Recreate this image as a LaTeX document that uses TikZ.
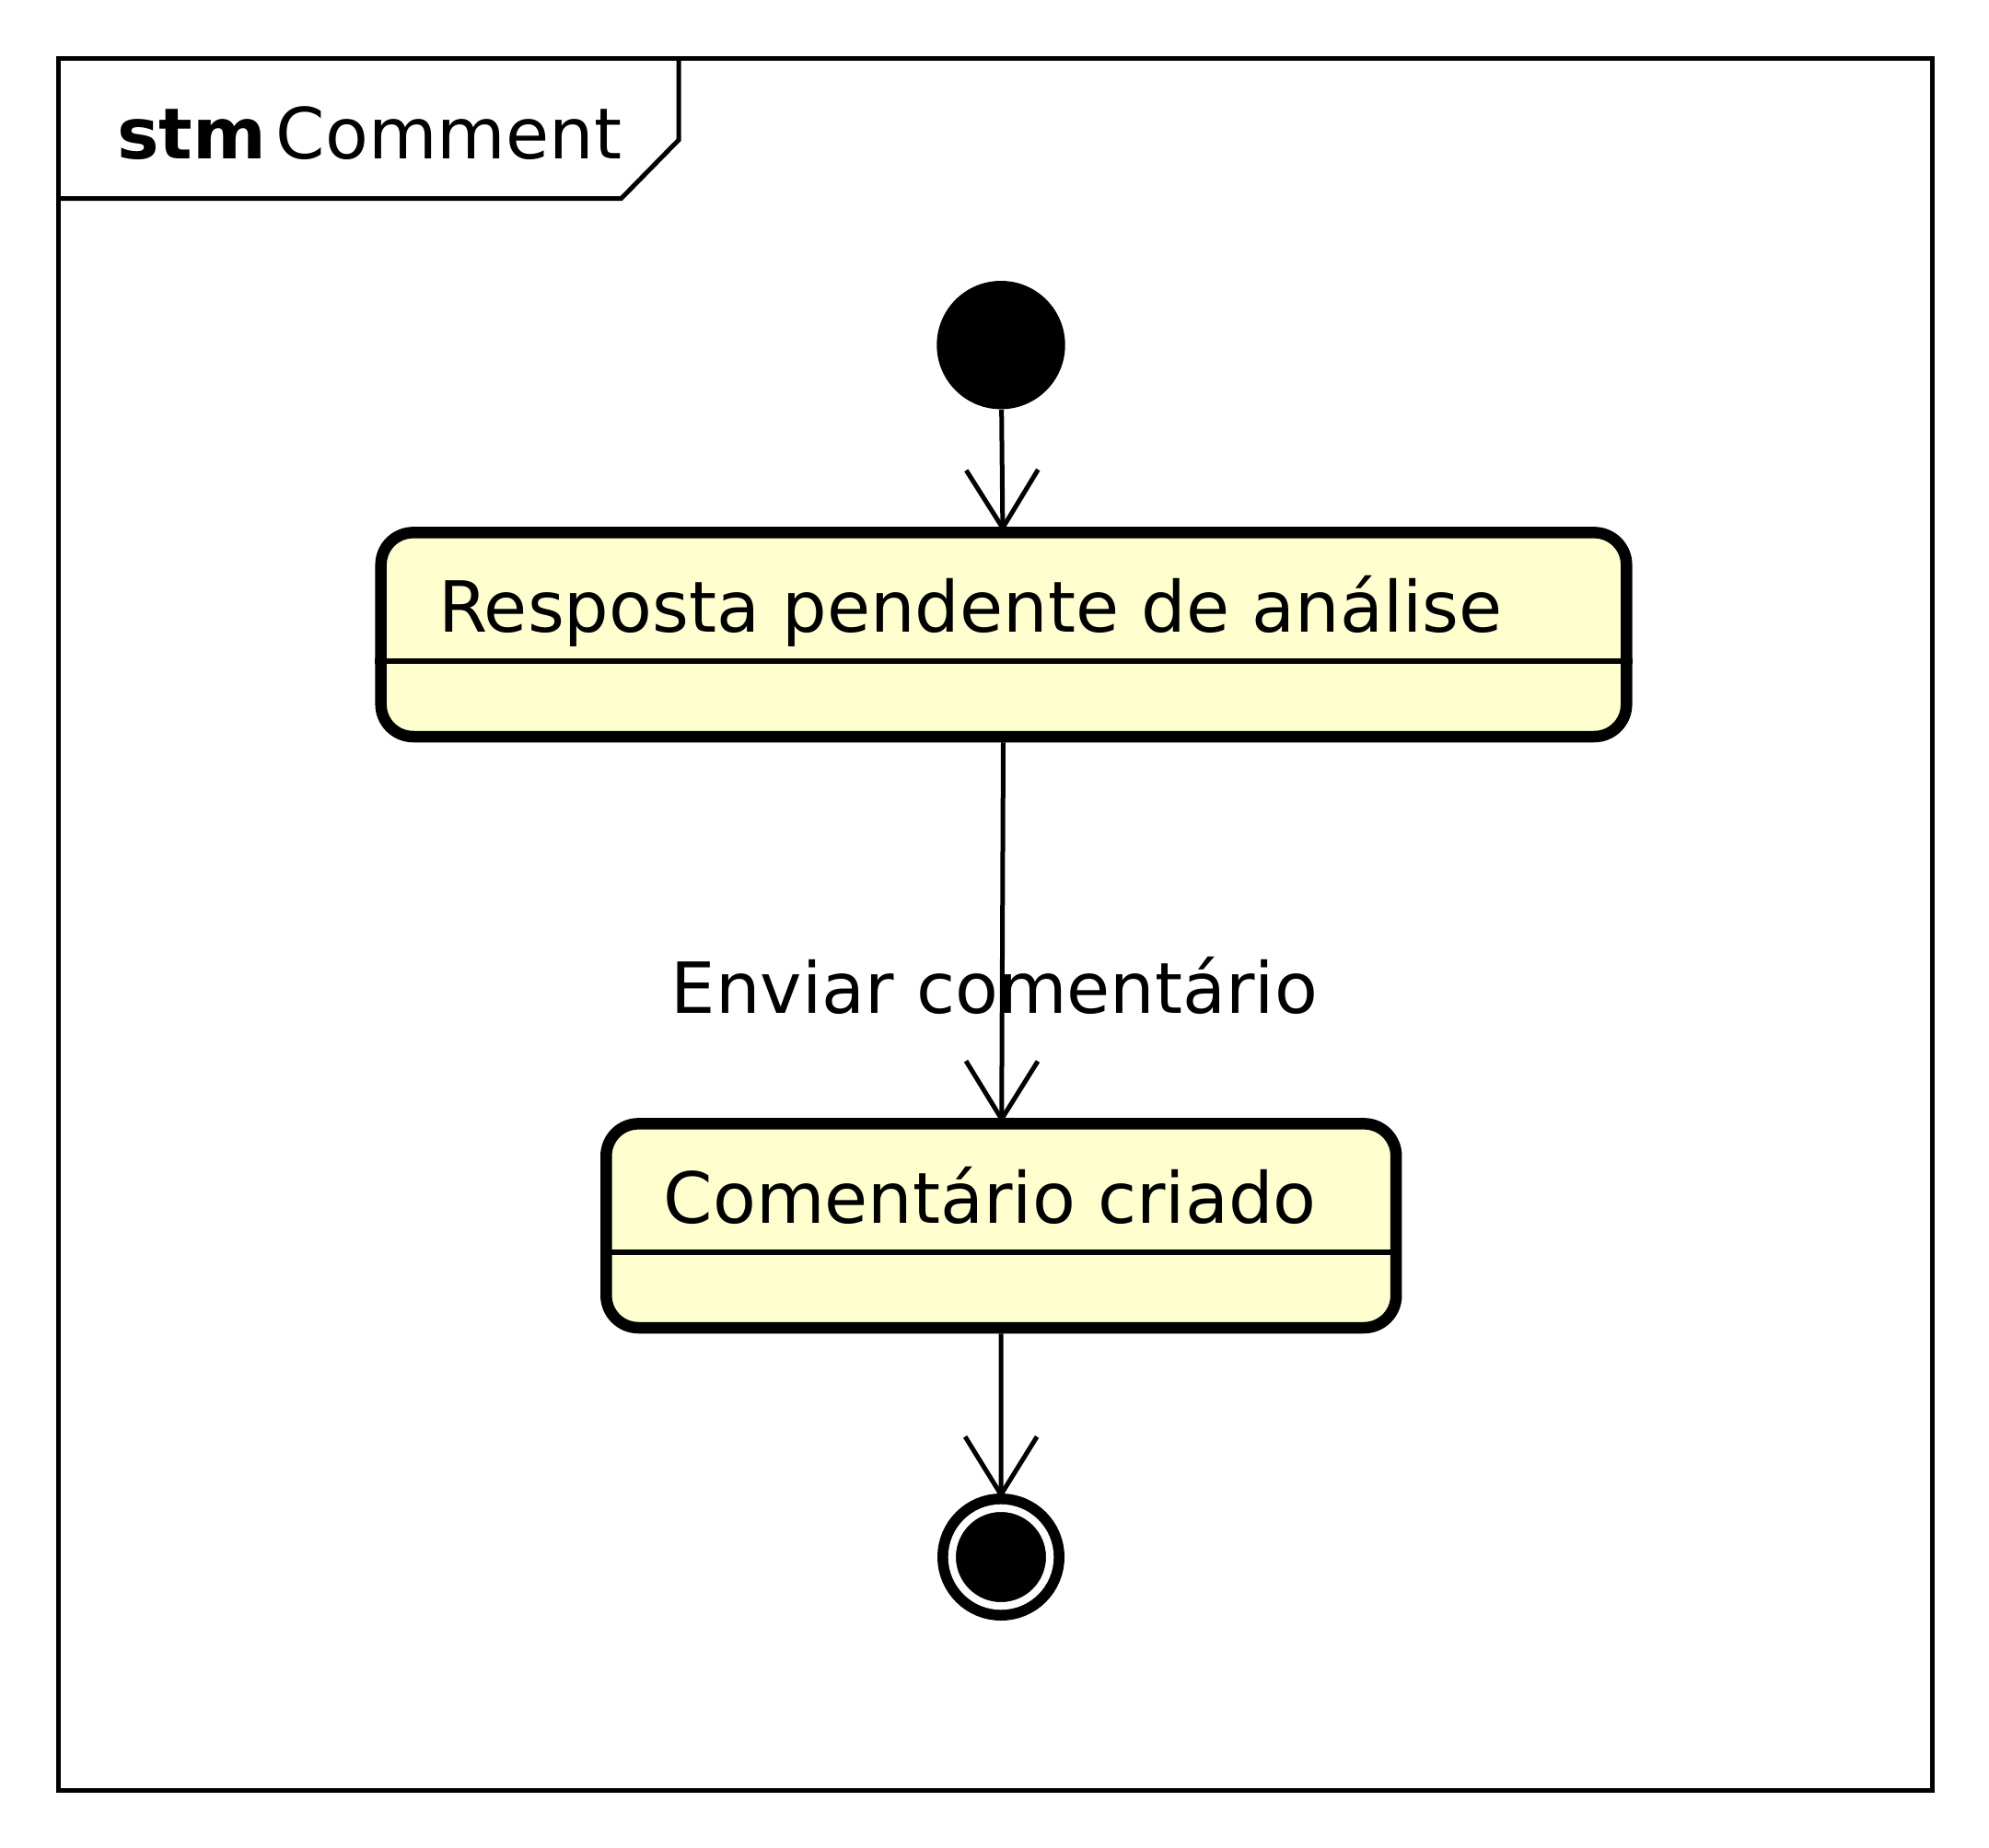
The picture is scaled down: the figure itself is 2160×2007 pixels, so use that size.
\documentclass[tikz,border=0pt]{standalone}
\usepackage{fontspec}
\setmainfont{DejaVu Sans}
\usetikzlibrary{arrows.meta, positioning}
\definecolor{stfill}{HTML}{FEFECE}
\tikzset{
	every node/.style={inner sep=0pt, font=\fontsize{38.3}{46}\selectfont},
	stbox/.style={rectangle, draw, fill=stfill, line width=6.25pt, rounded corners=17.5pt, minimum height=110.8pt},
	sttext/.style={anchor=base west},
	initst/.style={circle, fill=black, minimum size=69.7pt},
	finalst/.style={circle, draw=black, fill=black, double=white, double distance=4.15pt, line width=5.85pt, minimum size=53.15pt, outer sep=7.93pt},
	trans/.style={-{Straight Barb[length=31.5pt, width=39pt]}, line width=2.5pt, shorten >=-3pt},
	frameline/.style={line width=2.5pt},
	divider/.style={line width=2.85pt}
}

\begin{document}
\begin{tikzpicture}[x=0.5pt, y=0.5pt]
	\useasboundingbox (0,0) rectangle (2160,-2007);
	% frame and tab
	\draw[frameline] (63.5,-63.5) rectangle (2098,-1944.5);
	\draw[frameline] (63.5,-215.7) -- (674.5,-215.7) -- (737,-152) -- (737,-63.5);
	\node[sttext] (stm) at (127,-172.3) {\textbf{stm}};
	\node[sttext] (nome) at ([xshift=4.85pt]stm.base east) {Comment};

	% states
	\node[initst] (ini) at (1087,-374.7) {};
	\node[stbox, minimum width=676.3pt] (resp) at (1090,-689.2) {};
	\node[stbox, minimum width=428.95pt] (criado) at (1087.25,-1331.2) {};
	\node[finalst] (fim) at (1087,-1691) {};

	\node[sttext] (resp-t) at ([xshift=34.1pt, yshift=-57.4pt]resp.north west) {Resposta pendente de análise};
	\node[sttext] (criado-t) at ([xshift=34.1pt, yshift=-57.4pt]criado.north west) {Comentário criado};
	\draw[divider] ([yshift=-72.8pt]resp.north west) -- ([yshift=-72.8pt]resp.north east);
	\draw[divider] ([yshift=-72.8pt]criado.north west) -- ([yshift=-72.8pt]criado.north east);

	% transitions
	\draw[trans] (ini) -- (resp);
	\draw[trans] (resp) -- (criado);
	\draw[trans] (criado) -- (fim);
	\node[sttext] (envio) at (728.5,-1100) {Enviar comentário};
\end{tikzpicture}
\end{document}
